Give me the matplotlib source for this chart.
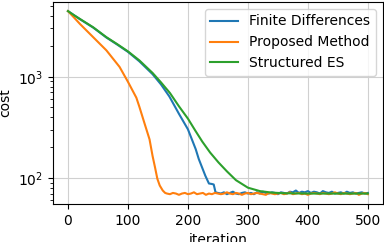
import numpy as np
import matplotlib
matplotlib.use('Agg')
import matplotlib.pyplot as plt

# finite differences
fd_it = [0, 10, 20, 42, 64, 82, 100, 119, 141, 155, 169, 185, 200, 213, 218, 224, 229, 235, 240, 243, 246]
fd_cost = [4450, 4050, 3700, 3060, 2440, 2080, 1760, 1420, 1060, 840, 638, 430, 302, 192, 154, 125, 105, 88, 87, 86, 72]
fd_floor = [71, 70, 72, 69, 71, 73, 70, 69, 71, 72, 70, 71, 69, 72, 70, 73, 71, 70, 72, 71,
            69, 72, 71, 70, 73, 72, 75, 71, 73, 72, 74, 71, 73, 72, 70, 74, 72, 71, 73, 70,
            71, 72, 70, 73, 71, 72, 70, 71, 72, 70, 71]

# proposed method
pm_it = [0, 10, 20, 42, 64, 86, 100, 114, 119, 128, 136, 141, 145, 149, 153, 158, 162]
pm_cost = [4450, 3850, 3320, 2460, 1823, 1250, 890, 620, 505, 340, 240, 165, 128, 98, 84, 75, 71]
pm_floor = [70, 69, 71, 70, 68, 70, 71, 69, 70, 72, 69, 70, 71, 68, 70, 69, 71, 70, 69, 70,
            72, 70, 69, 71, 70, 68, 70, 71, 69, 70, 71, 70, 69, 68, 71, 70, 69, 70, 71, 69,
            70, 72, 69, 70, 71, 69, 70, 68, 70, 71, 70, 69, 71, 70, 69, 70, 72, 70, 69, 71,
            70, 69, 70, 71, 68, 70, 71, 69]

# structured ES
es_it = [0, 10, 20, 42, 64, 82, 100, 119, 141, 155, 170, 185, 200, 212, 224, 237, 251, 265, 280,
         300, 320, 340, 360, 400, 450, 500]
es_cost = [4450, 4060, 3720, 3080, 2460, 2100, 1780, 1450, 1090, 880, 690, 510, 385, 295, 228, 178,
           142, 116, 95, 80, 74, 71.5, 70.5, 70, 70, 70]

fd_x = fd_it + list(range(250, 501, 5))
fd_y = fd_cost + fd_floor
pm_x = pm_it + list(range(165, 501, 5))
pm_y = pm_cost + pm_floor

fig = plt.figure(figsize=(3.84, 2.42), dpi=100)
ax = fig.add_axes([0.138, 0.157, 0.859, 0.835])
ax.plot(fd_x, fd_y, label='Finite Differences')
ax.plot(pm_x, pm_y, label='Proposed Method')
ax.plot(es_it, es_cost, label='Structured ES')
ax.set_yscale('log')
ax.set_xlabel('iteration')
ax.set_ylabel('cost')
ax.grid(True, color='#d0d0d0')
ax.legend(loc='upper right')
fig.savefig('out.png', dpi=100)
